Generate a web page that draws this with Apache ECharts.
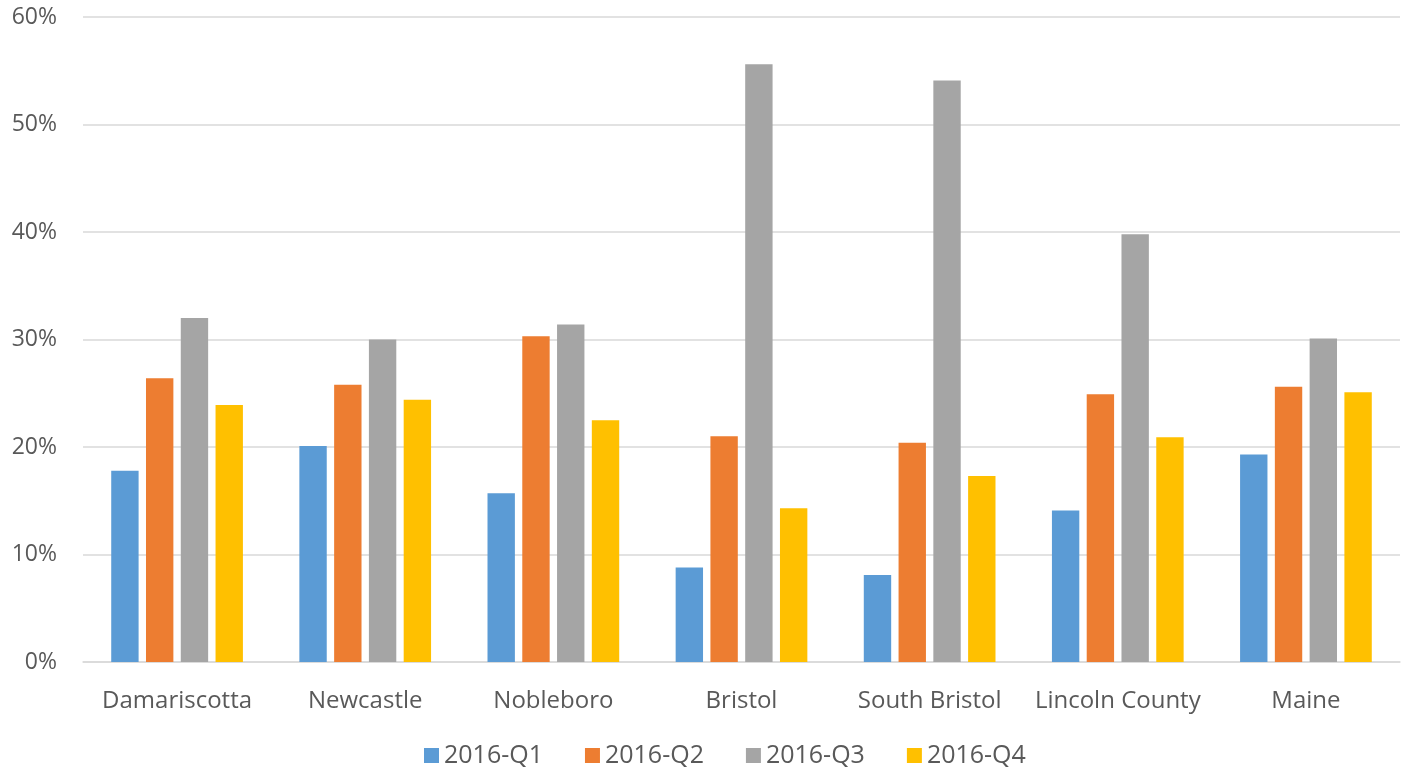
<!DOCTYPE html>
<html><head><meta charset="utf-8">
<script src="https://cdn.jsdelivr.net/npm/echarts@6/dist/echarts.min.js"></script>
<style>html,body{margin:0;padding:0;background:#fff}#c{width:1413px;height:775px}</style>
</head><body><div id="c"></div>
<script>
const categories = ['Damariscotta','Newcastle','Nobleboro','Bristol','South Bristol','Lincoln County','Maine'];
const seriesNames = ['2016-Q1','2016-Q2','2016-Q3','2016-Q4'];
const q1 = [17.8, 20.1, 15.7, 8.8, 8.1, 14.1, 19.3];
const q2 = [26.4, 25.8, 30.3, 21.0, 20.4, 24.9, 25.6];
const q3 = [32.0, 30.0, 31.4, 55.6, 54.1, 39.8, 30.1];
const q4 = [23.9, 24.4, 22.5, 14.3, 17.3, 20.9, 25.1];
const colors = ['#5B9BD5','#ED7D31','#A5A5A5','#FFC000'];
const values = [q1,q2,q3,q4];
const font = 'Open Sans';
const chart = echarts.init(document.getElementById('c'));
chart.setOption({
  animation:false,
  color: colors,
  grid:{left:83,right:13,top:17,bottom:113,containLabel:false},
  legend:{bottom:2,left:419,itemWidth:15,itemHeight:15,itemGap:42,icon:'rect',
    textStyle:{fontFamily:font,fontSize:25,color:'#595959'},data:seriesNames},
  xAxis:{type:'category',data:categories,
    axisLine:{lineStyle:{color:'#D9D9D9',width:1.5}},axisTick:{show:false},
    axisLabel:{interval:0,hideOverlap:false,fontFamily:font,fontSize:24,color:'#595959',margin:27}},
  yAxis:{type:'value',min:0,max:60,interval:10,
    axisLine:{show:false},axisTick:{show:false},
    splitLine:{lineStyle:{color:'#D9D9D9',width:1.5}},
    axisLabel:{formatter:'{value}%',fontFamily:font,fontSize:23,color:'#595959',margin:26}},
  series: seriesNames.map((n,i)=>({name:n,type:'bar',data:values[i],barGap:'27%',barCategoryGap:'30%'}))
});
</script></body></html>
